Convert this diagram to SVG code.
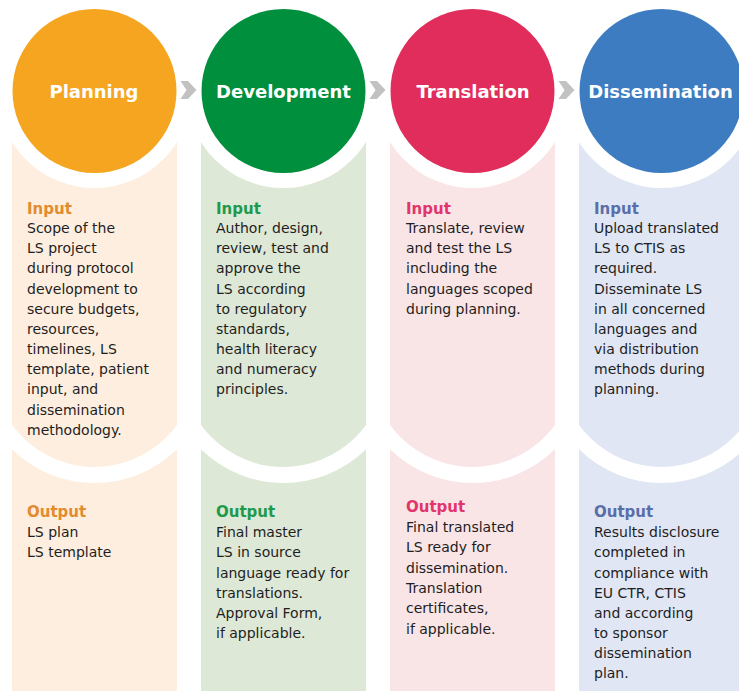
<svg xmlns="http://www.w3.org/2000/svg" width="739" height="691" viewBox="0 0 739 691">
<style>
.hd{font-family:"DejaVu Sans","Verdana",sans-serif;font-weight:bold;font-size:18px;fill:#fff;text-anchor:middle}
.tx{font-family:"DejaVu Sans","Verdana",sans-serif;font-size:14px;fill:#1e1e1e}
.lb{font-family:"DejaVu Sans","Verdana",sans-serif;font-size:15px;font-weight:bold}
.ring{fill:#fff}
.arc{fill:none;stroke:#fff;stroke-width:16}
.chev{fill:#c2c2c2}
</style>
<defs>
<clipPath id="c1"><rect x="12" y="140" width="165" height="551"/></clipPath>
<clipPath id="c2"><rect x="201" y="140" width="165" height="551"/></clipPath>
<clipPath id="c3"><rect x="390" y="140" width="165" height="551"/></clipPath>
<clipPath id="c4"><rect x="579" y="140" width="165" height="551"/></clipPath>
</defs>
<rect width="739" height="691" fill="#fff"/>
<g id="planning">
<rect x="12" y="140" width="165" height="551" fill="#FEEEDF"/>
<path class="arc" clip-path="url(#c1)" d="M -15.5 365 A 110 110 0 0 0 204.5 365"/>
<circle class="ring" cx="94.5" cy="91" r="97"/>
<circle cx="94.5" cy="91" r="82" fill="#F5A520"/>
<text class="hd" x="94" y="98">Planning</text>
<text class="lb" x="27" y="214" fill="#E28B2F">Input</text>
<text class="tx">
<tspan x="27" y="233">Scope of the</tspan>
<tspan x="27" y="253">LS project</tspan>
<tspan x="27" y="273">during protocol</tspan>
<tspan x="27" y="294">development to</tspan>
<tspan x="27" y="314">secure budgets,</tspan>
<tspan x="27" y="334">resources,</tspan>
<tspan x="27" y="354">timelines, LS</tspan>
<tspan x="27" y="374">template, patient</tspan>
<tspan x="27" y="394">input, and</tspan>
<tspan x="27" y="415">dissemination</tspan>
<tspan x="27" y="435">methodology.</tspan>
</text>
<text class="lb" x="27" y="517" fill="#E28B2F">Output</text>
<text class="tx">
<tspan x="27" y="537">LS plan</tspan>
<tspan x="27" y="557">LS template</tspan>
</text>
</g>
<g id="development">
<rect x="201" y="140" width="165" height="551" fill="#DEE8D6"/>
<path class="arc" clip-path="url(#c2)" d="M 173.5 365 A 110 110 0 0 0 393.5 365"/>
<circle class="ring" cx="283.5" cy="91" r="97"/>
<circle cx="283.5" cy="91" r="82" fill="#008F3C"/>
<text class="hd" x="283.5" y="98">Development</text>
<text class="lb" x="216" y="214" fill="#1F9A4A">Input</text>
<text class="tx">
<tspan x="216" y="233">Author, design,</tspan>
<tspan x="216" y="253">review, test and</tspan>
<tspan x="216" y="273">approve the</tspan>
<tspan x="216" y="294">LS according</tspan>
<tspan x="216" y="314">to regulatory</tspan>
<tspan x="216" y="334">standards,</tspan>
<tspan x="216" y="354">health literacy</tspan>
<tspan x="216" y="374">and numeracy</tspan>
<tspan x="216" y="394">principles.</tspan>
</text>
<text class="lb" x="216" y="517" fill="#1F9A4A">Output</text>
<text class="tx">
<tspan x="216" y="537">Final master</tspan>
<tspan x="216" y="557">LS in source</tspan>
<tspan x="216" y="578">language ready for</tspan>
<tspan x="216" y="598">translations.</tspan>
<tspan x="216" y="618">Approval Form,</tspan>
<tspan x="216" y="638">if applicable.</tspan>
</text>
</g>
<g id="translation">
<rect x="390" y="140" width="165" height="551" fill="#F9E4E6"/>
<path class="arc" clip-path="url(#c3)" d="M 362.5 365 A 110 110 0 0 0 582.5 365"/>
<circle class="ring" cx="472.5" cy="91" r="97"/>
<circle cx="472.5" cy="91" r="82" fill="#E02D5B"/>
<text class="hd" x="473" y="98">Translation</text>
<text class="lb" x="406" y="214" fill="#E2356A">Input</text>
<text class="tx">
<tspan x="406" y="233">Translate, review</tspan>
<tspan x="406" y="253">and test the LS</tspan>
<tspan x="406" y="273">including the</tspan>
<tspan x="406" y="294">languages scoped</tspan>
<tspan x="406" y="314">during planning.</tspan>
</text>
<text class="lb" x="406" y="512" fill="#E2356A">Output</text>
<text class="tx">
<tspan x="406" y="532">Final translated</tspan>
<tspan x="406" y="552">LS ready for</tspan>
<tspan x="406" y="573">dissemination.</tspan>
<tspan x="406" y="593">Translation</tspan>
<tspan x="406" y="613">certificates,</tspan>
<tspan x="406" y="634">if applicable.</tspan>
</text>
</g>
<g id="dissemination">
<rect x="579" y="140" width="165" height="551" fill="#E1E6F4"/>
<path class="arc" clip-path="url(#c4)" d="M 551.5 365 A 110 110 0 0 0 771.5 365"/>
<circle class="ring" cx="661.5" cy="91" r="97"/>
<circle cx="661.5" cy="91" r="82" fill="#3D7CC0"/>
<text class="hd" x="660.5" y="98">Dissemination</text>
<text class="lb" x="594" y="214" fill="#5B6EA8">Input</text>
<text class="tx">
<tspan x="594" y="233">Upload translated</tspan>
<tspan x="594" y="253">LS to CTIS as</tspan>
<tspan x="594" y="273">required.</tspan>
<tspan x="594" y="294">Disseminate LS</tspan>
<tspan x="594" y="314">in all concerned</tspan>
<tspan x="594" y="334">languages and</tspan>
<tspan x="594" y="354">via distribution</tspan>
<tspan x="594" y="374">methods during</tspan>
<tspan x="594" y="394">planning.</tspan>
</text>
<text class="lb" x="594" y="517" fill="#5B6EA8">Output</text>
<text class="tx">
<tspan x="594" y="537">Results disclosure</tspan>
<tspan x="594" y="557">completed in</tspan>
<tspan x="594" y="578">compliance with</tspan>
<tspan x="594" y="598">EU CTR, CTIS</tspan>
<tspan x="594" y="618">and according</tspan>
<tspan x="594" y="638">to sponsor</tspan>
<tspan x="594" y="658">dissemination</tspan>
<tspan x="594" y="678">plan.</tspan>
</text>
</g>
<g id="connectors">
<polygon class="chev" points="180.5,81 188,81 196.5,90 188,99 180.5,99 186.5,90"/>
<polygon class="chev" points="369.5,81 377,81 385.5,90 377,99 369.5,99 375.5,90"/>
<polygon class="chev" points="558.5,81 566,81 574.5,90 566,99 558.5,99 564.5,90"/>
</g>
</svg>
